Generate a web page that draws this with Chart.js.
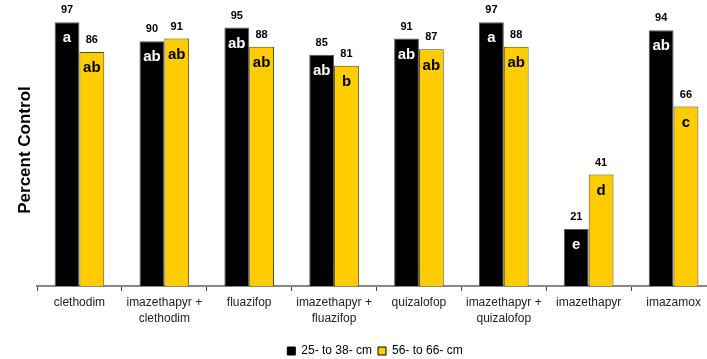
<!DOCTYPE html>
<html>
<head>
<meta charset="utf-8">
<script src="https://cdn.jsdelivr.net/npm/chart.js@4/dist/chart.umd.min.js"></script>
<style>
  html, body { margin: 0; padding: 0; background: #fff; overflow: hidden; }
  #wrap { width: 750px; height: 367px; position: relative; }
</style>
</head>
<body>
<div id="wrap"><canvas id="c"></canvas></div>
<script>
const categories = [
  "clethodim",
  ["imazethapyr +", "clethodim"],
  "fluazifop",
  ["imazethapyr +", "fluazifop"],
  "quizalofop",
  ["imazethapyr +", "quizalofop"],
  "imazethapyr",
  "imazamox"
];
const seriesNames = ["25- to 38- cm", "56- to 66- cm"];
const smallPlants = [97, 90, 95, 85, 91, 97, 21, 94];
const largePlants = [86, 91, 88, 81, 87, 88, 41, 66];
const smallLetters = ["a", "ab", "ab", "ab", "ab", "a", "e", "ab"];
const largeLetters = ["ab", "ab", "ab", "b", "ab", "ab", "d", "c"];

const FONT = "'Liberation Sans', Arial, sans-serif";

const labelPlugin = {
  id: 'barLabels',
  afterDatasetsDraw(chart) {
    const ctx = chart.ctx;
    const letterSets = [smallLetters, largeLetters];
    const letterColors = ['#ffffff', '#000000'];
    chart.data.datasets.forEach((ds, di) => {
      const meta = chart.getDatasetMeta(di);
      meta.data.forEach((bar, i) => {
        ctx.save();
        ctx.textAlign = 'center';
        ctx.textBaseline = 'middle';
        ctx.fillStyle = '#000';
        ctx.font = 'bold 11px ' + FONT;
        ctx.fillText(String(ds.data[i]), bar.x, bar.y - 12);
        ctx.fillStyle = letterColors[di];
        ctx.font = 'bold 15px ' + FONT;
        ctx.fillText(letterSets[di][i], bar.x, bar.y + 16);
        ctx.restore();
      });
    });
  }
};

new Chart(document.getElementById('c'), {
  type: 'bar',
  data: {
    labels: categories,
    datasets: [
      {
        label: seriesNames[0],
        data: smallPlants,
        backgroundColor: '#000000',
        borderColor: '#555555',
        borderWidth: 1,
        categoryPercentage: 0.585,
        barPercentage: 1.0
      },
      {
        label: seriesNames[1],
        data: largePlants,
        backgroundColor: '#FFCC00',
        borderColor: '#5a4a00',
        borderWidth: 1,
        categoryPercentage: 0.585,
        barPercentage: 1.0
      }
    ]
  },
  options: {
    responsive: true,
    maintainAspectRatio: false,
    animation: false,
    layout: { padding: { top: 14, right: 34, left: 34, bottom: 0 } },
    plugins: {
      tooltip: { enabled: false },
      legend: {
        position: 'bottom',
        labels: {
          boxWidth: 8,
          boxHeight: 8,
          padding: 6,
          color: '#000',
          font: { family: FONT, size: 12 },
          generateLabels(chart) {
            return chart.data.datasets.map((ds, i) => ({
              text: ds.label,
              fillStyle: ds.backgroundColor,
              strokeStyle: '#000',
              lineWidth: 1,
              hidden: false,
              datasetIndex: i
            }));
          }
        }
      }
    },
    scales: {
      x: {
        afterFit(scale) { scale.height = 53; },
        grid: {
          display: true,
          drawOnChartArea: false,
          drawTicks: true,
          tickLength: 5,
          tickColor: '#444',
          offset: true
        },
        border: { display: true, color: '#888888', width: 2 },
        ticks: {
          color: '#222',
          padding: 4,
          maxRotation: 0,
          autoSkip: false,
          font: { family: FONT, size: 12, lineHeight: 1.33 }
        }
      },
      y: {
        min: 0,
        max: 100,
        afterFit(scale) { scale.width = 3; },
        grid: { display: false },
        border: { display: false },
        ticks: { display: false },
        title: {
          display: true,
          text: 'Percent Control',
          color: '#000',
          font: { family: FONT, size: 17, weight: 'bold', lineHeight: 1.2 },
          padding: { top: -19, bottom: 0 }
        }
      }
    }
  },
  plugins: [labelPlugin]
});
</script>
</body>
</html>
